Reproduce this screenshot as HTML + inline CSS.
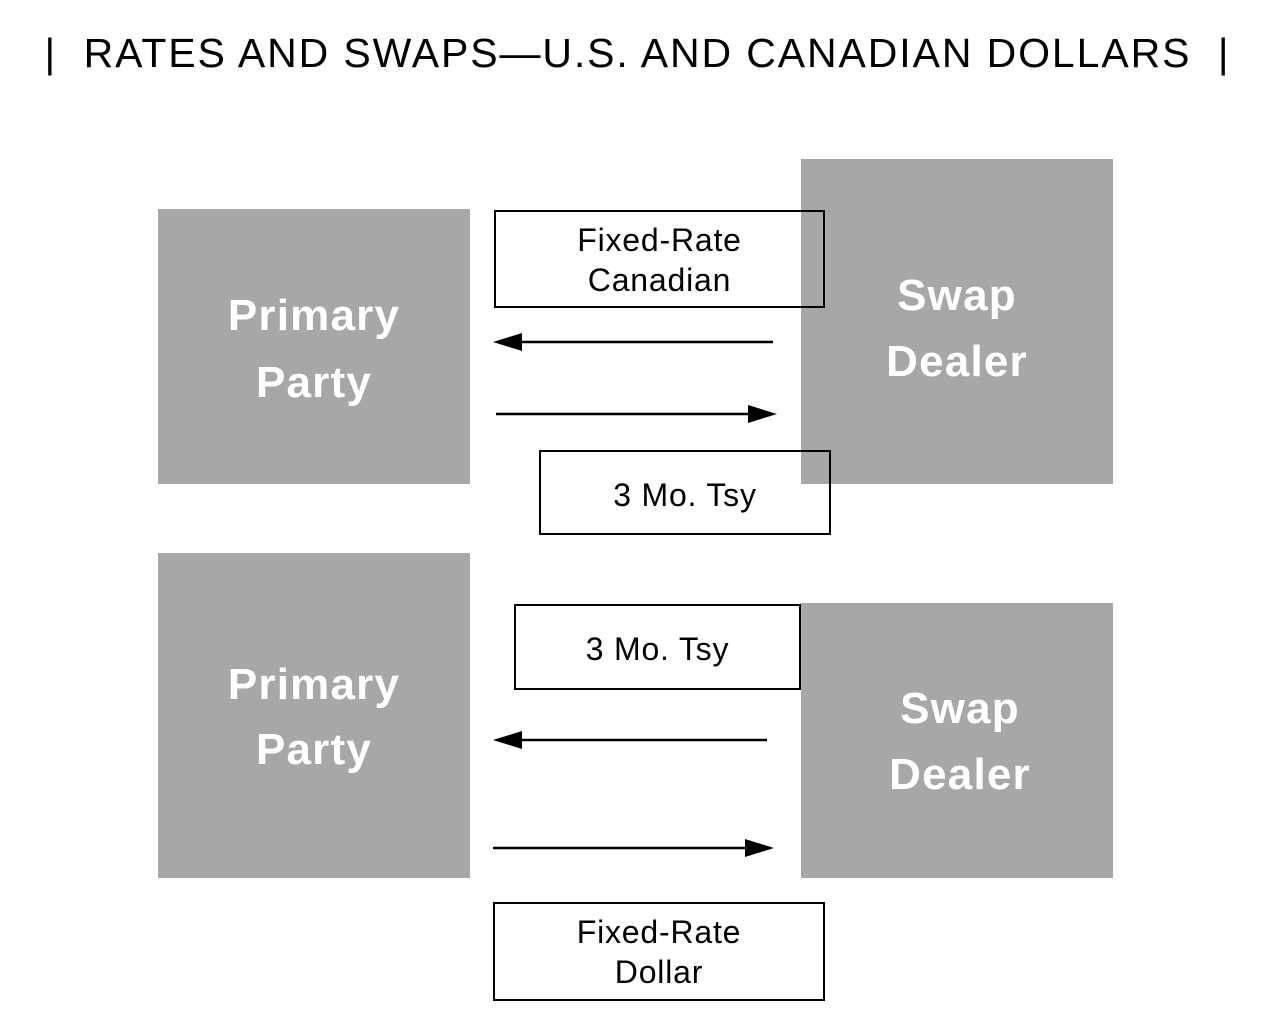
<!DOCTYPE html>
<html><head><meta charset="utf-8"><style>
body{margin:0;width:1275px;height:1031px;background:#fff;position:relative;font-family:"Liberation Sans",sans-serif;overflow:hidden}
.g{position:absolute;background:#a6a7a9;color:#fff;font-weight:bold;font-size:44px;letter-spacing:1.2px}
.g span{position:absolute;left:0;right:0;text-align:center;line-height:1}
.b{position:absolute;border:2px solid #000;box-sizing:border-box;font-size:32px;text-align:center;letter-spacing:0.8px}
.b span{position:absolute;left:0;right:0;line-height:1}
#t{position:absolute;left:0;width:1275px;top:33px;text-align:center;font-size:41px;letter-spacing:1.9px;white-space:pre;line-height:1}
</style></head><body>
<div id="t">|  RATES AND SWAPS—U.S. AND CANADIAN DOLLARS  |</div>
<div class="g" style="left:158px;top:209px;width:312px;height:275px"><span style="top:85px">Primary</span><span style="top:152px">Party</span></div>
<div class="g" style="left:801px;top:159px;width:312px;height:325px"><span style="top:115px">Swap</span><span style="top:181px">Dealer</span></div>
<div class="g" style="left:158px;top:553px;width:312px;height:325px"><span style="top:110px">Primary</span><span style="top:175px">Party</span></div>
<div class="g" style="left:801px;top:603px;width:312px;height:275px"><span style="top:84px;left:6px">Swap</span><span style="top:150px;left:6px">Dealer</span></div>
<div class="b" style="left:494px;top:210px;width:331px;height:98px"><span style="top:12px">Fixed-Rate</span><span style="top:52px">Canadian</span></div>
<div class="b" style="left:539px;top:450px;width:292px;height:85px"><span style="top:27px">3 Mo. Tsy</span></div>
<div class="b" style="left:514px;top:604px;width:287px;height:86px"><span style="top:27px">3 Mo. Tsy</span></div>
<div class="b" style="left:493px;top:902px;width:332px;height:99px"><span style="top:12px">Fixed-Rate</span><span style="top:52px">Dollar</span></div>
<svg width="1275" height="1031" style="position:absolute;left:0;top:0">
<g stroke="#000" stroke-width="2.5">
<line x1="773" y1="342" x2="510" y2="342"/>
<line x1="496" y1="414" x2="760" y2="414"/>
<line x1="767" y1="740" x2="510" y2="740"/>
<line x1="493" y1="848" x2="757" y2="848"/>
</g>
<g fill="#000">
<polygon points="493,342 522,333 522,351"/>
<polygon points="777,414 748,405 748,423"/>
<polygon points="493,740 522,731 522,749"/>
<polygon points="774,848 745,839 745,857"/>
</g>
</svg>
</body></html>
